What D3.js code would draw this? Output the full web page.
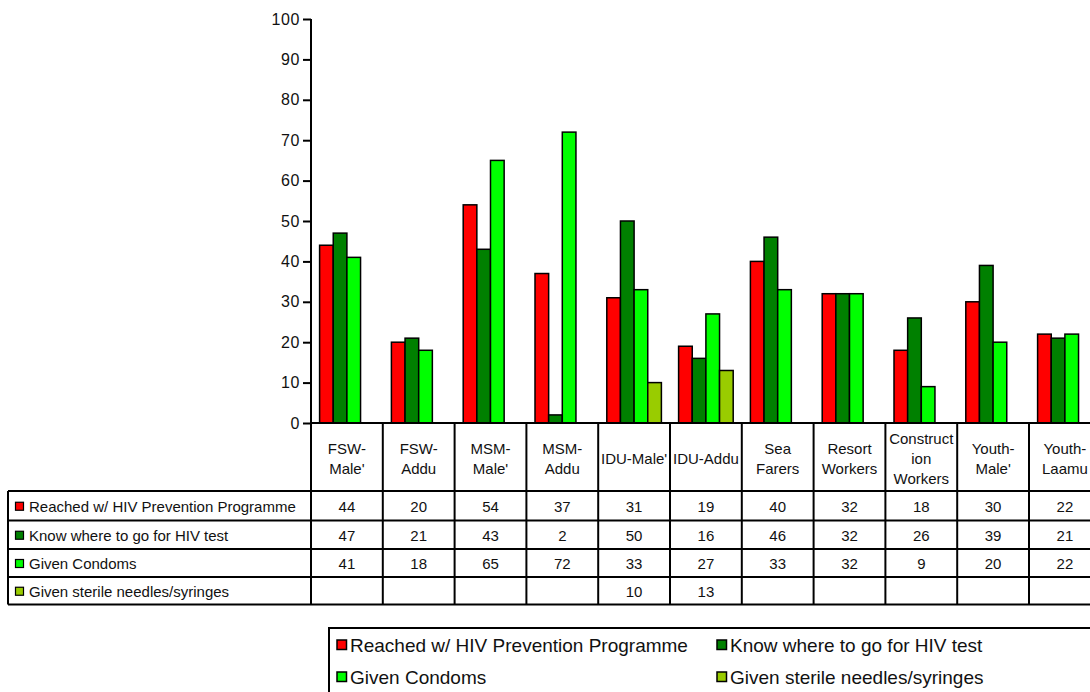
<!DOCTYPE html>
<html>
<head>
<meta charset="utf-8">
<script src="https://cdn.jsdelivr.net/npm/d3@7"></script>
<style>
    body { margin: 0; background: #fff; }
    svg { display: block; font-family: "Liberation Sans", Arial, sans-serif; }
    .axis path, .axis line { stroke: #000; stroke-width: 2; }
    .axis text { font-size: 16px; fill: #111; letter-spacing: 0.6px; }
    .bar { stroke: #000; stroke-width: 1.5; }
    .grid-line { stroke: #000; stroke-width: 2; }
</style>
</head>
<body>
<svg id="chart" width="1090" height="692"></svg>
<script>
// categories (header lines of the data table)
var categories = ["FSW-Male'", "FSW-Addu", "MSM-Male'", "MSM-Addu", "IDU-Male'", "IDU-Addu",
    "Sea Farers", "Resort Workers", "Construction Workers", "Youth-Male'", "Youth-Laamu"];
var categoryLines = [["FSW-", "Male'"], ["FSW-", "Addu"], ["MSM-", "Male'"], ["MSM-", "Addu"],
    ["IDU-Male'"], ["IDU-Addu"], ["Sea", "Farers"], ["Resort", "Workers"],
    ["Construct", "ion", "Workers"], ["Youth-", "Male'"], ["Youth-", "Laamu"]];

var seriesNames = ["Reached w/ HIV Prevention Programme", "Know where to go for HIV test",
    "Given Condoms", "Given sterile needles/syringes"];
var seriesColors = ["#ff0000", "#008000", "#00ff00", "#99cc00"];

var reached = [44, 20, 54, 37, 31, 19, 40, 32, 18, 30, 22];
var knowWhere = [47, 21, 43, 2, 50, 16, 46, 32, 26, 39, 21];
var condoms = [41, 18, 65, 72, 33, 27, 33, 32, 9, 20, 22];
var needles = [null, null, null, null, 10, 13, null, null, null, null, null];

var yTicks = [0, 10, 20, 30, 40, 50, 60, 70, 80, 90, 100];

var seriesValues = [reached, knowWhere, condoms, needles];

var svg = d3.select("#chart");

var plotLeft = 311,
    plotTop = 19,
    plotBottom = 423,
    colWidth = 71.8,
    plotRight = plotLeft + colWidth * categories.length;

var x = d3.scaleBand().domain(categories).range([plotLeft, plotRight]).padding(0);
var x1 = d3.scaleBand().domain(d3.range(seriesNames.length))
    .range([8.6, colWidth - 8.6]).padding(0);
var y = d3.scaleLinear().domain([0, 100]).range([plotBottom, plotTop]);

// bars
var rows = [];
seriesValues.forEach(function (vals, s) {
    vals.forEach(function (v, i) {
        if (v !== null) rows.push({cat: categories[i], s: s, v: v});
    });
});

svg.append("g").selectAll("rect")
    .data(rows)
    .enter().append("rect")
    .attr("class", "bar")
    .attr("x", function (d) { return x(d.cat) + x1(d.s); })
    .attr("y", function (d) { return y(d.v); })
    .attr("width", x1.bandwidth())
    .attr("height", function (d) { return y(0) - y(d.v); })
    .attr("fill", function (d) { return seriesColors[d.s]; });

// y axis
var yAxis = svg.append("g")
    .attr("class", "axis")
    .attr("transform", "translate(" + plotLeft + ",0)")
    .call(d3.axisLeft(y).tickValues(yTicks).tickSize(8).tickSizeOuter(0).tickPadding(3));
yAxis.select(".domain").remove();
svg.append("line").attr("class", "grid-line")
    .attr("x1", plotLeft).attr("x2", plotLeft)
    .attr("y1", plotTop).attr("y2", plotBottom);

// data table
var headerBottom = 491;
var rowLines = [491, 520.5, 549, 577, 604.5];
var tableLeft = 8;
var g = svg.append("g");

// x axis / top of table
g.append("line").attr("class", "grid-line")
    .attr("x1", plotLeft).attr("x2", plotRight)
    .attr("y1", plotBottom).attr("y2", plotBottom);

// column dividers
var dividers = categories.map(function (c) { return x(c); }).concat([plotRight]);
g.selectAll(".col-line")
    .data(dividers)
    .enter().append("line")
    .attr("class", "grid-line")
    .attr("x1", function (d) { return d; })
    .attr("x2", function (d) { return d; })
    .attr("y1", plotBottom)
    .attr("y2", rowLines[rowLines.length - 1]);

// horizontal row lines
g.selectAll(".row-line")
    .data(rowLines)
    .enter().append("line")
    .attr("class", "grid-line")
    .attr("x1", tableLeft)
    .attr("x2", plotRight)
    .attr("y1", function (d) { return d; })
    .attr("y2", function (d) { return d; });
g.append("line").attr("class", "grid-line")
    .attr("x1", tableLeft).attr("x2", tableLeft)
    .attr("y1", headerBottom).attr("y2", rowLines[rowLines.length - 1]);

// header labels
categories.forEach(function (c, i) {
    var lines = categoryLines[i];
    var lh = 19.8;
    var y0 = 459 - (lines.length - 1) * lh / 2;
    var t = g.append("text")
        .attr("x", x(c) + colWidth / 2)
        .attr("text-anchor", "middle")
        .style("font-size", "15px")
        .attr("fill", "#111");
    lines.forEach(function (l, k) {
        t.append("tspan")
            .attr("x", x(c) + colWidth / 2)
            .attr("y", y0 + k * lh)
            .attr("dy", "0.35em")
            .text(l);
    });
});

// row labels with markers, and values
seriesNames.forEach(function (name, s) {
    var cy = (rowLines[s] + rowLines[s + 1]) / 2 + 1;
    g.append("rect")
        .attr("x", 15.5).attr("y", cy - 4.5)
        .attr("width", 8).attr("height", 8)
        .attr("fill", seriesColors[s])
        .attr("stroke", "#000").attr("stroke-width", 1.2);
    g.append("text")
        .attr("x", 29).attr("y", cy).attr("dy", "0.35em")
        .style("font-size", "15px").attr("fill", "#111")
        .text(name);
    seriesValues[s].forEach(function (v, i) {
        if (v === null) return;
        g.append("text")
            .attr("x", x(categories[i]) + colWidth / 2)
            .attr("y", cy).attr("dy", "0.35em")
            .attr("text-anchor", "middle")
            .style("font-size", "15px").attr("fill", "#111")
            .text(v);
    });
});

// legend
var legend = svg.append("g");
var legendItems = [
    {s: 0, x: 337, y: 645},
    {s: 1, x: 717, y: 645},
    {s: 2, x: 337, y: 677},
    {s: 3, x: 717, y: 677}
];
legend.append("rect")
    .attr("x", 329).attr("y", 628)
    .attr("width", 800).attr("height", 80)
    .attr("fill", "none").attr("stroke", "#000").attr("stroke-width", 2);
legend.selectAll(".item")
    .data(legendItems)
    .enter().append("g")
    .each(function (d) {
        var it = d3.select(this);
        it.append("rect")
            .attr("x", d.x).attr("y", d.y - 5)
            .attr("width", 9.5).attr("height", 9.5)
            .attr("fill", seriesColors[d.s])
            .attr("stroke", "#000").attr("stroke-width", 1.5);
        it.append("text")
            .attr("x", d.x + 13).attr("y", d.y).attr("dy", "0.35em")
            .style("font-size", "19px").attr("fill", "#111")
            .text(seriesNames[d.s]);
    });
</script>
</body>
</html>
